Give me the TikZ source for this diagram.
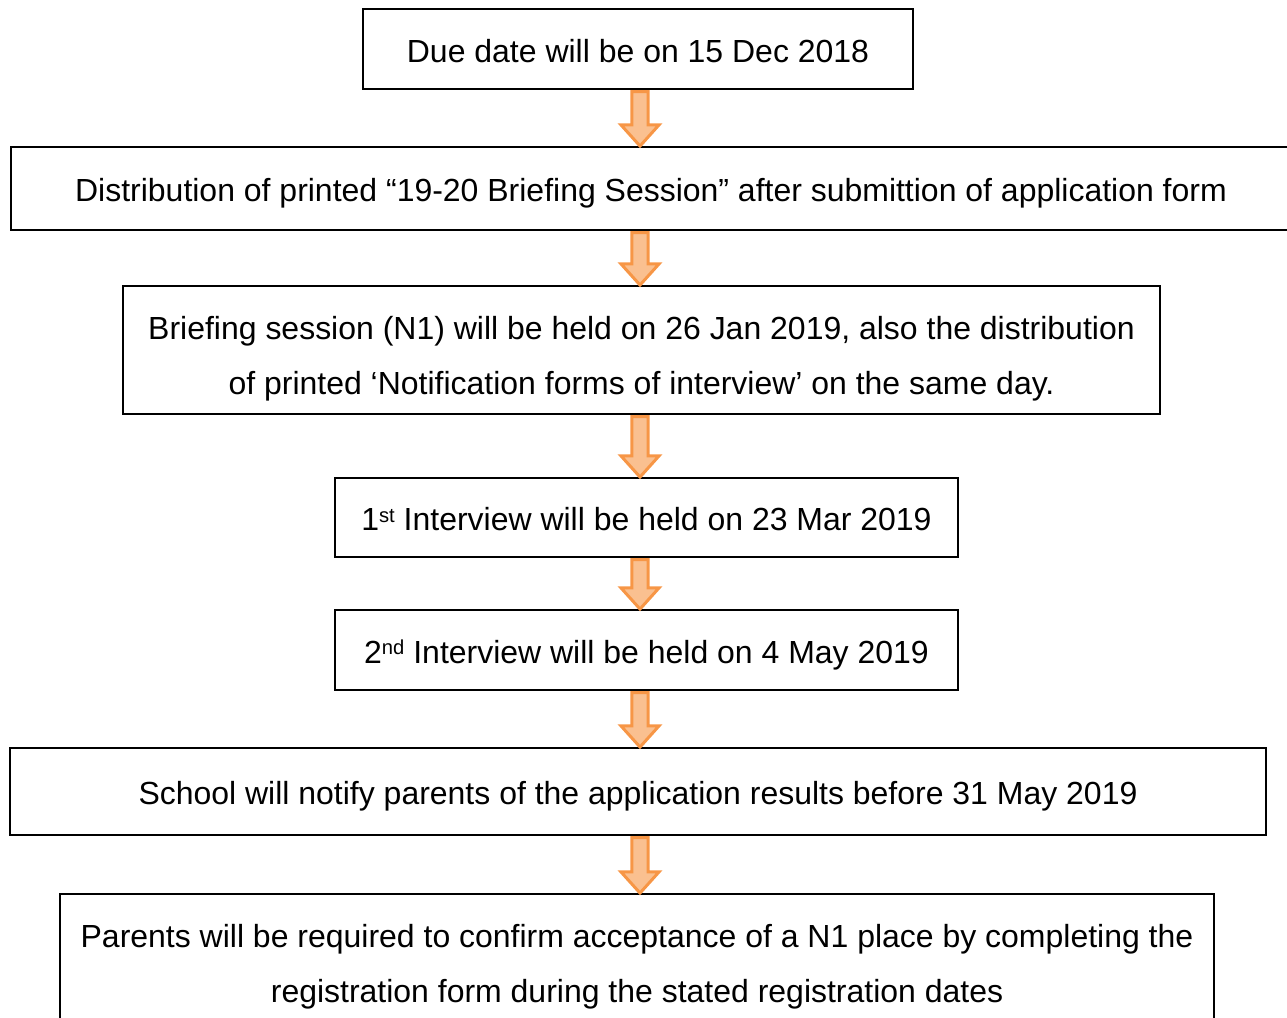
\documentclass[tikz,border=0pt]{standalone}
\usepackage{fontspec}
\setmainfont{Liberation Sans}
\usetikzlibrary{calc}
\definecolor{arrline}{HTML}{F79646}
\definecolor{arrfill}{HTML}{FAC090}
\newcommand{\ord}[1]{\raisebox{5pt}{\fontsize{11.5}{11.5}\selectfont #1}}
\tikzset{
  tbox/.style={rectangle,draw,line width=1.1pt,align=center,inner sep=0pt,font=\fontsize{18.2}{31.3}\selectfont},
  onel/.style={tbox,text height=15.2pt,text depth=0pt},
  twol/.style={tbox,text height=50.4pt,text depth=0pt},
  barrow/.style={draw=arrline,fill=arrfill,line width=1.7pt,line join=miter}
}
% block arrow from the bottom of one box to the top of the next
\newcommand{\flowarrow}[2]{%
  \draw[barrow] let \p1=(spine |- #1.south), \p2=(spine |- #2.north) in
    (\x1-4.6pt,\y1-1pt) -- (\x1+4.6pt,\y1-1pt) -- (\x1+4.6pt,\y2+12pt) -- (\x1+10.8pt,\y2+12pt)
    -- (\x1,\y2) -- (\x1-10.8pt,\y2+12pt) -- (\x1-4.6pt,\y2+12pt) -- cycle;}

\begin{document}
\begin{tikzpicture}[x=0.02cm,y=-0.02cm]
\clip (0,0) rectangle (1287,1017);
\coordinate (spine) at (640,0);
\node[onel,minimum width=11cm,minimum height=1.6cm] (D) at (638,49) {Due date will be on 15 Dec 2018};
\node[onel,minimum width=25.6cm,minimum height=1.66cm] (B) at (651,188.5) {Distribution of printed “19-20 Briefing Session” after submittion of application form};
\node[twol,minimum width=20.74cm,minimum height=2.56cm] (S) at (641.5,350) {Briefing session (N1) will be held on 26 Jan 2019, also the distribution\\of printed ‘Notification forms of interview’ on the same day.};
\node[onel,minimum width=12.46cm,minimum height=1.58cm] (I1) at (646.5,517.5) {1\ord{st} Interview will be held on 23 Mar 2019};
\node[onel,minimum width=12.46cm,minimum height=1.6cm] (I2) at (646.5,650) {2\ord{nd} Interview will be held on 4 May 2019};
\node[onel,minimum width=25.12cm,minimum height=1.74cm] (R) at (638,791.5) {School will notify parents of the application results before 31 May 2019};
\node[twol,minimum width=23.08cm,minimum height=2.56cm] (P) at (637,958) {Parents will be required to confirm acceptance of a N1 place by completing the\\registration form during the stated registration dates};
\flowarrow{D}{B}
\flowarrow{B}{S}
\flowarrow{S}{I1}
\flowarrow{I1}{I2}
\flowarrow{I2}{R}
\flowarrow{R}{P}
\end{tikzpicture}
\end{document}
